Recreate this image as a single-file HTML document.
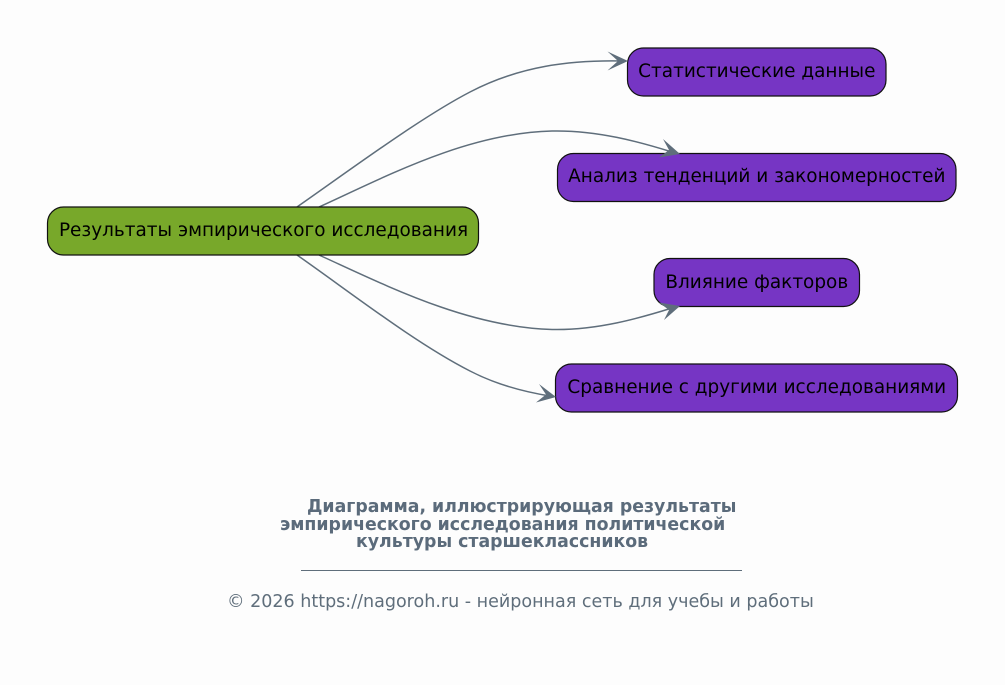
<!DOCTYPE html>
<html><head><meta charset="utf-8"><style>
html,body{margin:0;padding:0;background:#fdfdfd}
svg{display:block}
text{font-family:"DejaVu Sans",sans-serif}
.n{font-size:18.45px;fill:#000;text-anchor:middle}
.e{fill:none;stroke:#5f6e7b;stroke-width:1.5}
.a{fill:#5f6e7b;stroke:none}
.b{fill:#7635c4;stroke:#111;stroke-width:1.2}
.c{font-size:17.33px;font-weight:bold;fill:#5b6b7b}
</style></head><body>
<svg width="1005" height="685" viewBox="0 0 1005 685" xmlns="http://www.w3.org/2000/svg">
<rect width="1005" height="685" fill="#fdfdfd"/>
<path class="e" d="M297 207C350 170 420 118 470 92C520 66 570 60 622 61"/>
<path class="e" d="M319 207C385 177 467 133 552 131C597 130 640 142 672 152"/>
<path class="e" d="M319 255C385 285 467 327 552 329.500C597 330.500 640 318 672 308"/>
<path class="e" d="M297 255C350 292 415 343 470 371C497 385 525 392 550 396"/>
<rect x="47.500" y="207" width="431" height="48" rx="16" fill="#78a82a" stroke="#111" stroke-width="1.2"/>
<text class="n" x="263.500" y="236">Результаты эмпирического исследования</text>
<rect class="b" x="627.500" y="48" width="258.500" height="48" rx="16"/>
<text class="n" x="756.800" y="77">Статистические данные</text>
<rect class="b" x="557.500" y="153.500" width="398.500" height="48" rx="16"/>
<text class="n" x="756.800" y="182">Анализ тенденций и закономерностей</text>
<rect class="b" x="654" y="258.500" width="205.500" height="48" rx="16"/>
<text class="n" x="756.800" y="288">Влияние факторов</text>
<rect class="b" x="555.500" y="364" width="402" height="48" rx="16"/>
<text class="n" x="756.800" y="393">Сравнение с другими исследованиями</text>
<path class="a" d="M628 61L607.500 51.500L618 61L607.500 70.500Z"/>
<path class="a" d="M680 154L663 139L669 150L659 157.500Z"/>
<path class="a" d="M680 306L659 302.500L669 310L664 320Z"/>
<path class="a" d="M556 397L539 384L546 394.500L536 402.500Z"/>
<text class="c" x="307" y="512">Диаграмма, иллюстрирующая результаты</text>
<text class="c" x="280" y="530">эмпирического исследования политической</text>
<text class="c" x="356" y="547">культуры старшеклассников</text>
<line x1="301" y1="570.500" x2="742" y2="570.500" stroke="#5f6e7b" stroke-width="1"/>
<text x="227" y="607" font-size="17.53" fill="#5f6e7b">© 2026 https://nagoroh.ru - нейронная сеть для учебы и работы</text>
</svg>
</body></html>
